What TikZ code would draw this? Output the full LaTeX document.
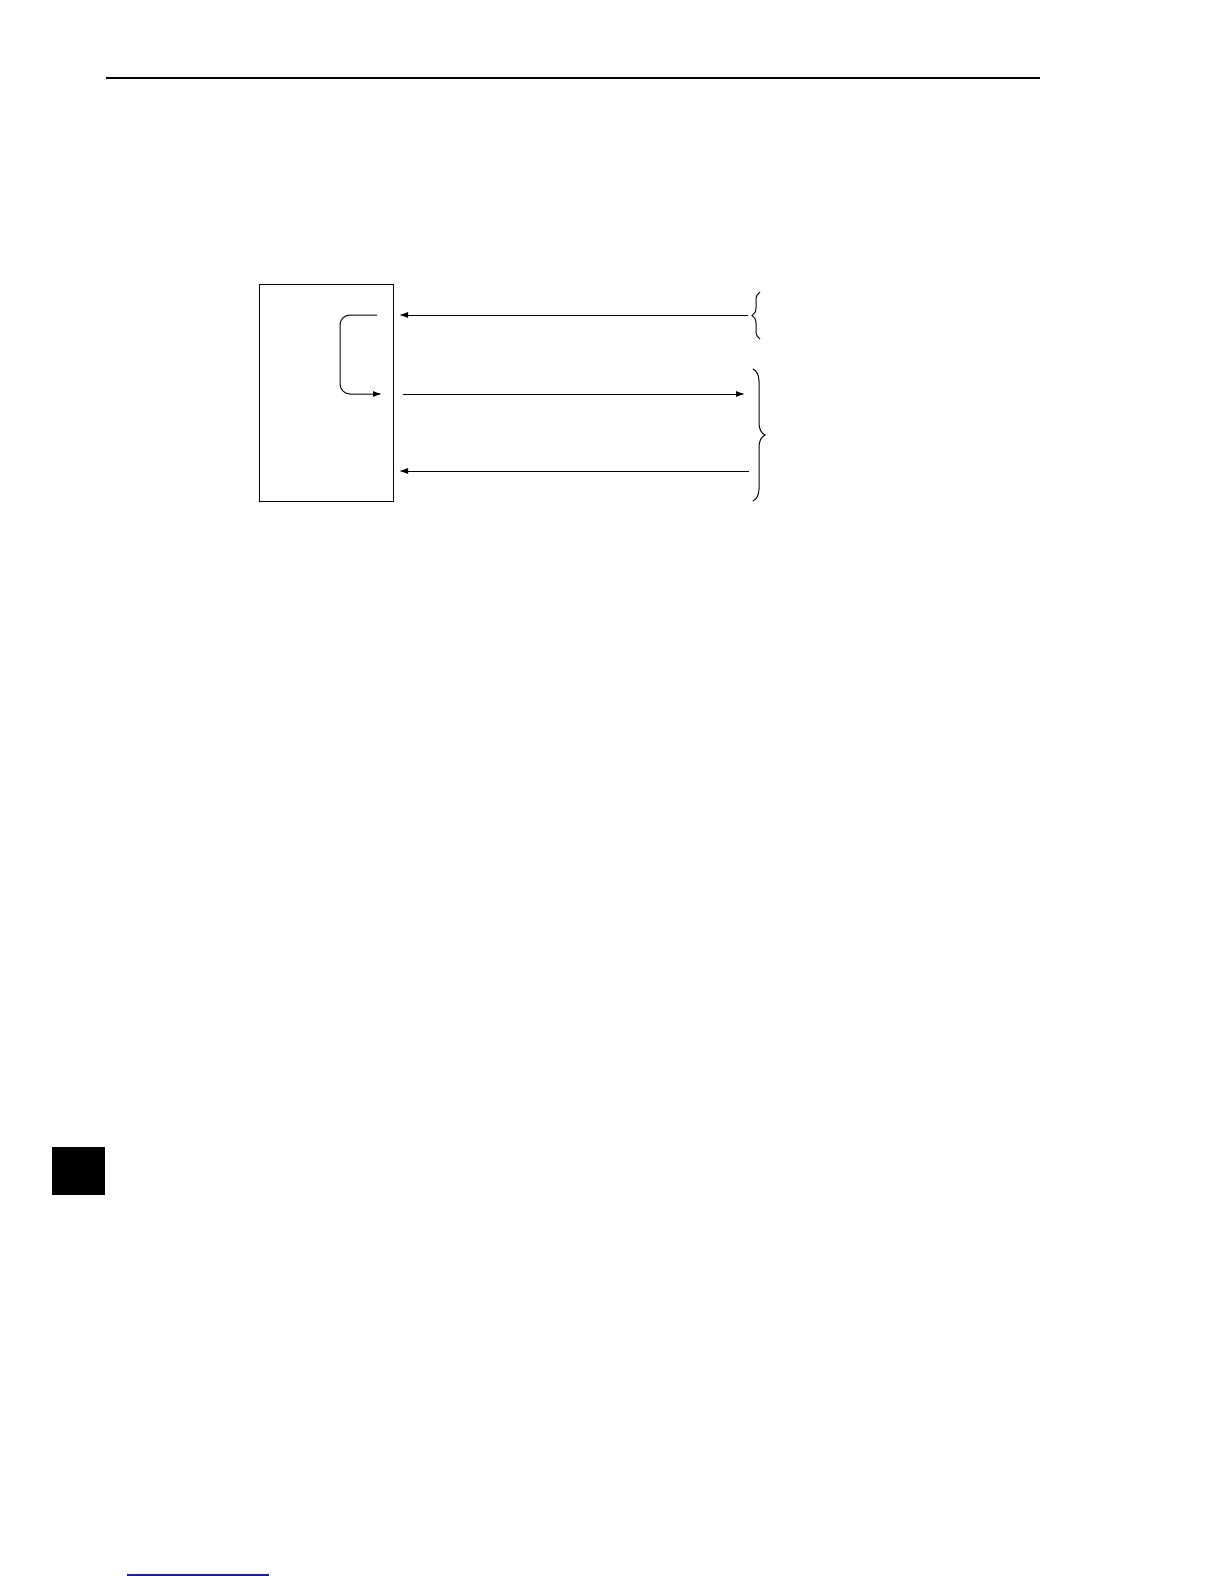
\documentclass[tikz,border=0pt]{standalone}
\usetikzlibrary{arrows.meta}
\usetikzlibrary{decorations.pathreplacing}

\tikzset{
  sig/.style={->, line width=0.5pt},
  grp/.style={decorate, decoration={brace, amplitude=#1}, line width=0.5pt},
}

\begin{document}
\begin{tikzpicture}[x=0.5pt, y=-0.5pt, >={Latex[length=4.5pt, width=3pt]}]
\useasboundingbox (0,0) rectangle (1224,1584);
% page rule
\coordinate (ruleL) at (106,78);
\coordinate (ruleR) at (1040,78);
\draw[line width=0.8pt] (ruleL) -- (ruleR);
% unit
\coordinate (unitNW) at (259,284);
\coordinate (unitSE) at (393,501);
\draw[line width=0.5pt] (unitNW) rectangle (unitSE);
% internal loop
\coordinate (loopA) at (377,315);
\coordinate (loopB) at (382,394);
\draw[sig, rounded corners=5pt] (loopA) -- (340,315) -- (340,394) -- (loopB);
% lines
\coordinate (inA) at (748,315);
\coordinate (inAt) at (399,315);
\coordinate (outB) at (403,394);
\coordinate (outBt) at (745,394);
\coordinate (inC) at (749,471);
\coordinate (inCt) at (399,471);
\draw[sig] (inA) -- (inAt);
\draw[sig] (outB) -- (outBt);
\draw[sig] (inC) -- (inCt);
% braces
\coordinate (brA1) at (760,339);
\coordinate (brA2) at (760,292);
\coordinate (brB1) at (753,369);
\coordinate (brB2) at (753,501);
\draw[grp=4pt] (brA1) -- (brA2);
\draw[grp=6pt] (brB1) -- (brB2);
% tab mark
\coordinate (tabNW) at (52,1147);
\coordinate (tabSE) at (105,1195);
\fill (tabNW) rectangle (tabSE);
% link underline
\definecolor{linkblue}{RGB}{30,30,140}
\coordinate (lnkL) at (127,1575);
\coordinate (lnkR) at (269,1575);
\draw[linkblue, line width=0.6pt] (lnkL) -- (lnkR);
\end{tikzpicture}
\end{document}
